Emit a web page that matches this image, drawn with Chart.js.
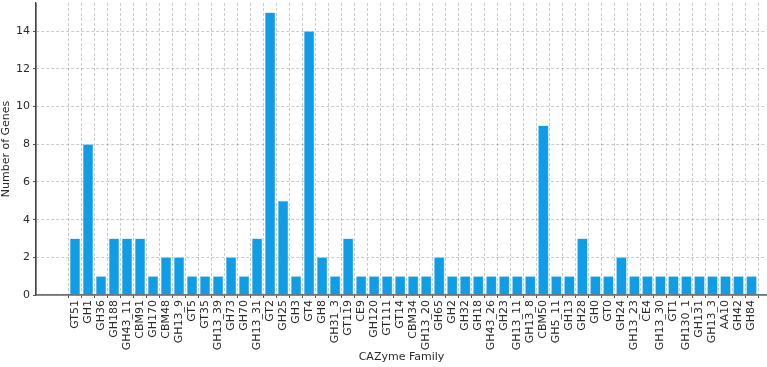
<!DOCTYPE html>
<html><head><meta charset="utf-8">
<script src="https://cdn.jsdelivr.net/npm/chart.js@4/dist/chart.umd.min.js"></script>
<style>html,body{margin:0;padding:0;background:#fff;}#c{display:block;}</style>
</head><body>
<canvas id="c" width="767" height="367"></canvas>
<script>
const families = ["GT51","GH1","GH36","GH188","GH43_11","CBM91","GH170","CBM48","GH13_9","GT5","GT35","GH13_39","GH73","GH70","GH13_31","GT2","GH25","GH3","GT4","GH8","GH31_3","GT119","CE9","GH120","GT111","GT14","CBM34","GH13_20","GH65","GH2","GH32","GH18","GH43_26","GH23","GH13_11","GH13_8","CBM50","GH5_11","GH13","GH28","GH0","GT0","GH24","GH13_23","CE4","GH13_30","GT1","GH130_1","GH131","GH13_3","AA10","GH42","GH84"];
const geneCounts = [3,8,1,3,3,3,1,2,2,1,1,1,2,1,3,15,5,1,14,2,1,3,1,1,1,1,1,1,2,1,1,1,1,1,1,1,9,1,1,3,1,1,2,1,1,1,1,1,1,1,1,1,1];
const yTicks = [0,2,4,6,8,10,12,14];

const font = {family: "'DejaVu Sans', sans-serif", size: 11};
const gridCol = 'rgba(0,0,0,0.2)';
new Chart(document.getElementById('c'), {
  type: 'bar',
  data: {
    datasets: [{
      data: families.map((f, i) => ({x: i, y: geneCounts[i]})),
      backgroundColor: '#119ce6',
      borderColor: '#5cc0f2',
      borderWidth: 0.6,
      barPercentage: 0.8,
      categoryPercentage: 1
    }]
  },
  options: {
    responsive: false,
    animation: false,
    layout: {padding: {top: 3, right: 0, left: 0, bottom: 0}},
    plugins: {legend: {display: false}, tooltip: {enabled: false}},
    scales: {
      x: {
        type: 'linear',
        offset: false,
        min: -3.0,
        max: 53.19,
        afterBuildTicks: s => { s.ticks = families.map((f, i) => ({value: i})); },
        afterFit: s => { s.height = 72; s.paddingLeft = 0; s.paddingRight = 0; },
        ticks: {
          autoSkip: false, minRotation: 90, maxRotation: 90, padding: 2,
          color: '#2a2a2a', font: font,
          callback: v => families[v]
        },
        grid: {color: gridCol, tickLength: 3, drawTicks: true, tickColor: '#555'},
        border: {display: true, color: '#666', width: 1.3, dash: [3, 2]},
        title: {display: true, text: 'CAZyme Family', color: '#2a2a2a', font: font, padding: {top: 2, bottom: 3}}
      },
      y: {
        min: 0,
        max: 15.5,
        afterBuildTicks: s => { s.ticks = yTicks.map(v => ({value: v})); },
        afterFit: s => { s.width = 36; s.paddingTop = 0; s.paddingBottom = 0; },
        ticks: {color: '#2a2a2a', font: font, padding: 3},
        grid: {color: gridCol, tickLength: 3, tickColor: '#555'},
        border: {display: true, color: '#444', width: 1.2, dash: [3, 2]},
        title: {display: true, text: 'Number of Genes', color: '#2a2a2a', font: font, padding: {top: 0, bottom: 2}}
      }
    }
  },
  plugins: [{
    id: 'solidAxes',
    afterDraw(chart) {
      const {ctx, chartArea: a} = chart;
      ctx.save();
      ctx.setLineDash([]);
      ctx.strokeStyle = '#444'; ctx.lineWidth = 1.2;
      ctx.beginPath(); ctx.moveTo(a.left, a.top); ctx.lineTo(a.left, a.bottom); ctx.stroke();
      ctx.strokeStyle = '#777'; ctx.lineWidth = 1.4;
      ctx.beginPath(); ctx.moveTo(a.left, a.bottom); ctx.lineTo(a.right, a.bottom); ctx.stroke();
      ctx.restore();
    }
  }]
});
</script>
</body></html>
